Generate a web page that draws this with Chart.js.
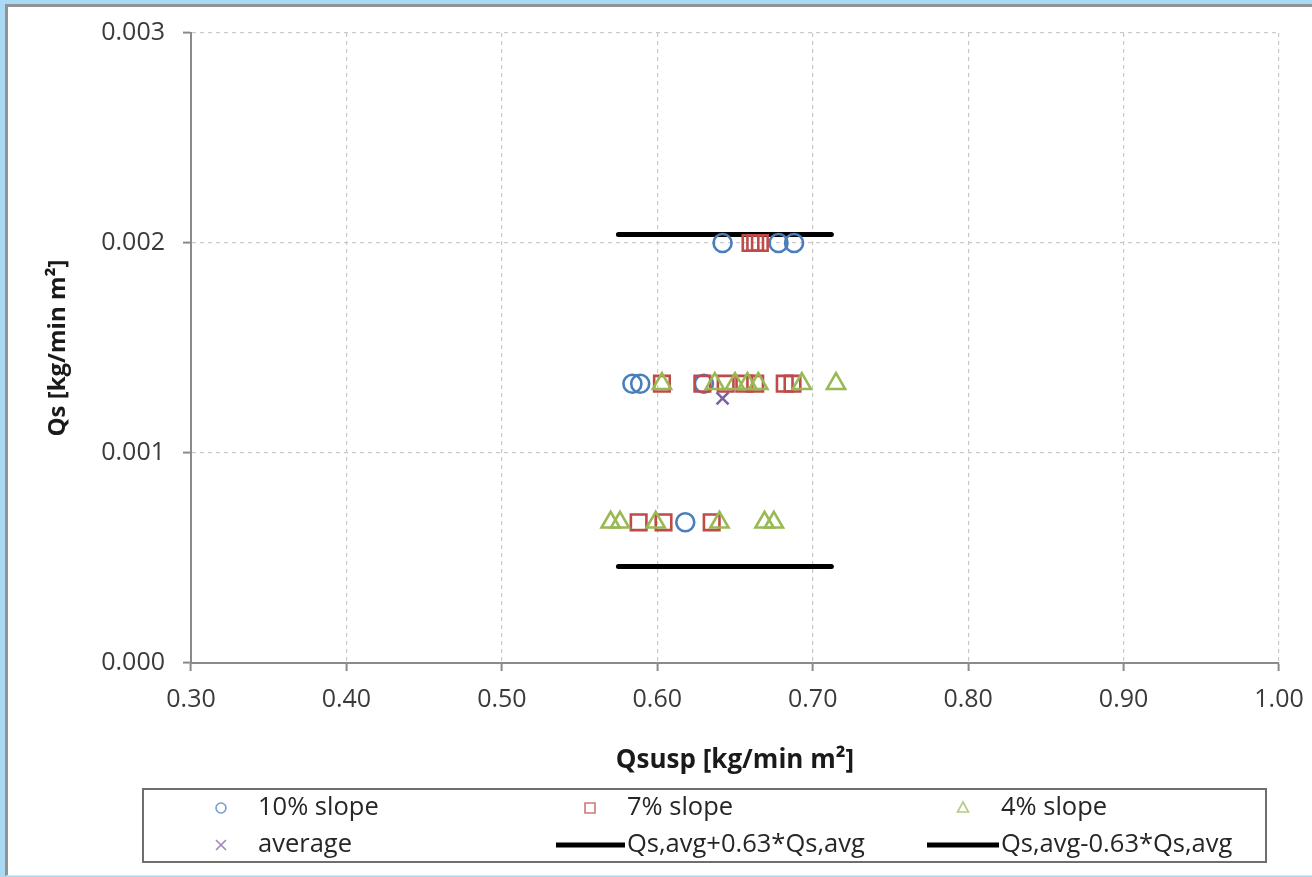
<!DOCTYPE html>
<html>
<head>
<meta charset="utf-8">
<script src="https://cdn.jsdelivr.net/npm/chart.js@4/dist/chart.umd.min.js"></script>
<style>
  html, body { margin: 0; padding: 0; }
  body { width: 1312px; height: 877px; background: #a9d9f3; position: relative; overflow: hidden; }
  #frame { position: absolute; left: 5px; top: 4px; right: 0; bottom: 1px; background: #fff;
           border-left: 3px solid #8f9396; border-top: 3px solid #8f9396; border-bottom: 1px solid #e4e4e4; }
  #chart { position: absolute; left: 0; top: 0; }
</style>
</head>
<body>
<div id="frame"></div>
<canvas id="chart" width="1312" height="877"></canvas>
<script>
// values
var slope10X = [0.642, 0.678, 0.688, 0.584, 0.589, 0.630, 0.618];
var slope10Y = [0.002, 0.002, 0.002, 0.00133, 0.00133, 0.00133, 0.00067];

var slope7X = [0.660, 0.663, 0.666, 0.603, 0.629, 0.644, 0.656, 0.663, 0.682, 0.687, 0.588, 0.604, 0.635];
var slope7Y = [0.002, 0.002, 0.002, 0.00133, 0.00133, 0.00133, 0.00133, 0.00133, 0.00133, 0.00133, 0.00067, 0.00067, 0.00067];

var slope4X = [0.603, 0.637, 0.650, 0.658, 0.665, 0.693, 0.715, 0.570, 0.576, 0.599, 0.640, 0.669, 0.675];
var slope4Y = [0.00133, 0.00133, 0.00133, 0.00133, 0.00133, 0.00133, 0.00133, 0.00067, 0.00067, 0.00067, 0.00067, 0.00067, 0.00067];

var avgX = [0.642];
var avgY = [0.00126];

var upperX = [0.575, 0.712];
var upperY = [0.00204, 0.00204];
var lowerX = [0.575, 0.712];
var lowerY = [0.00046, 0.00046];

var seriesLabels = ['10% slope', '7% slope', '4% slope', 'average', 'Qs,avg+0.63*Qs,avg', 'Qs,avg-0.63*Qs,avg'];

function toPoints(xs, ys) {
  var pts = [];
  for (var i = 0; i < xs.length; i++) pts.push({ x: xs[i], y: ys[i] });
  return pts;
}

var FONT = "'Open Sans', sans-serif";
var blue = '#4a7ebb', red = '#be4b48', green = '#98b954', purple = '#7d60a0';

function markerSet(label, pts, style, color, radius, order) {
  return {
    label: label, data: pts, showLine: false, order: order,
    pointStyle: style, pointRadius: radius, pointHoverRadius: radius,
    pointBorderColor: color, pointBackgroundColor: 'rgba(0,0,0,0)', pointBorderWidth: 2.6
  };
}
function lineSet(label, pts) {
  return {
    label: label, data: pts, showLine: true, order: 5,
    borderColor: '#000', borderWidth: 5, pointRadius: 0, borderCapStyle: 'round'
  };
}

// legend drawn by hand to get the two-row boxed layout
var legendPlugin = {
  id: 'boxLegend',
  afterDraw: function(chart) {
    var ctx = chart.ctx;
    var ds = chart.data.datasets;
    ctx.save();
    ctx.strokeStyle = '#6e6e6e';
    ctx.lineWidth = 2;
    ctx.strokeRect(143, 789, 1123, 73);

    var cols = [{ sym: 221, l: 187, r: 256, text: 258 },
                { sym: 590, l: 556, r: 625, text: 627 },
                { sym: 963, l: 927, r: 999, text: 1001 }];
    var rows = [808, 845];
    ctx.font = '25.5px ' + FONT;
    ctx.textBaseline = 'middle';
    ctx.textAlign = 'left';

    for (var i = 0; i < ds.length; i++) {
      var c = cols[i % 3], y = rows[Math.floor(i / 3)];
      var d = ds[i];
      if (d.showLine) {
        ctx.beginPath();
        ctx.strokeStyle = '#000';
        ctx.lineWidth = 5;
        ctx.moveTo(c.l, y); ctx.lineTo(c.r, y);
        ctx.stroke();
      } else {
        ctx.strokeStyle = d.pointBorderColor;
        ctx.globalAlpha = 0.75;
        ctx.lineWidth = 1.6;
        ctx.beginPath();
        if (d.pointStyle === 'circle') {
          ctx.arc(c.sym, y, 5, 0, Math.PI * 2);
        } else if (d.pointStyle === 'rect') {
          ctx.rect(c.sym - 5, y - 5, 10, 10);
        } else if (d.pointStyle === 'triangle') {
          ctx.moveTo(c.sym, y - 6); ctx.lineTo(c.sym + 5.5, y + 4); ctx.lineTo(c.sym - 5.5, y + 4); ctx.closePath();
        } else {
          ctx.moveTo(c.sym - 5, y - 5); ctx.lineTo(c.sym + 5, y + 5);
          ctx.moveTo(c.sym + 5, y - 5); ctx.lineTo(c.sym - 5, y + 5);
        }
        ctx.stroke();
        ctx.globalAlpha = 1;
      }
      ctx.fillStyle = '#262626';
      ctx.fillText(d.label, c.text, y);
    }
    ctx.restore();
  }
};

var gridOpts = {
  color: '#c9c9c9', lineWidth: 1.2,
  tickColor: '#8a8a8a', tickWidth: 2, tickLength: 8, tickBorderDash: []
};
var borderOpts = { color: '#8a8a8a', width: 2, dash: [4, 4] };

var chart = new Chart(document.getElementById('chart').getContext('2d'), {
  type: 'scatter',
  data: {
    datasets: [
      markerSet(seriesLabels[0], toPoints(slope10X, slope10Y), 'circle', blue, 9, 3),
      markerSet(seriesLabels[1], toPoints(slope7X, slope7Y), 'rect', red, 11, 2),
      markerSet(seriesLabels[2], toPoints(slope4X, slope4Y), 'triangle', green, 10.5, 1),
      markerSet(seriesLabels[3], toPoints(avgX, avgY), 'crossRot', purple, 8.5, 0),
      lineSet(seriesLabels[4], toPoints(upperX, upperY)),
      lineSet(seriesLabels[5], toPoints(lowerX, lowerY))
    ]
  },
  options: {
    responsive: false,
    animation: false,
    layout: { padding: { left: 44, top: 32, right: 33, bottom: 101 } },
    plugins: { legend: { display: false }, tooltip: { enabled: false } },
    scales: {
      x: {
        type: 'linear', min: 0.3, max: 1.0,
        afterFit: function(s) { s.height = 113; s.paddingRight = 0; },
        border: borderOpts,
        grid: gridOpts,
        ticks: { stepSize: 0.1, padding: 14, color: '#3a3a3a', font: { family: FONT, size: 25 },
                 callback: function(v) { return v.toFixed(2); } },
        title: { display: true, text: 'Qsusp [kg/min m²]', color: '#1a1a1a', padding: 0,
                 font: { family: FONT, size: 26, weight: 'bold' } }
      },
      y: {
        type: 'linear', min: 0, max: 0.003,
        afterFit: function(s) { s.width = 147; },
        border: borderOpts,
        grid: gridOpts,
        ticks: { stepSize: 0.001, padding: 18, color: '#3a3a3a', font: { family: FONT, size: 25 },
                 callback: function(v) { return v.toFixed(3); } },
        title: { display: true, text: 'Qs [kg/min m²]', color: '#1a1a1a', padding: 0,
                 font: { family: FONT, size: 24, weight: 'bold' } }
      }
    }
  },
  plugins: [legendPlugin]
});
</script>
</body>
</html>
